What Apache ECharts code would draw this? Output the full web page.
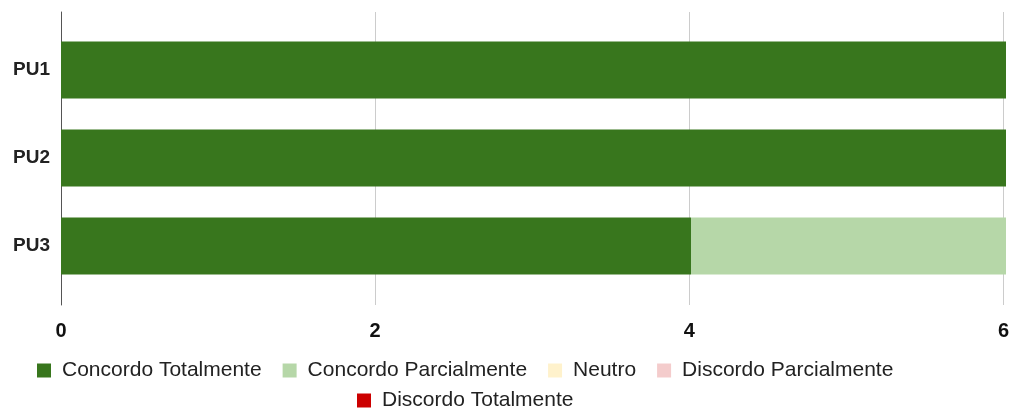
<!DOCTYPE html>
<html><head><meta charset="utf-8">
<script src="https://cdn.jsdelivr.net/npm/echarts@6/dist/echarts.min.js"></script>
<style>html,body{margin:0;padding:0;background:#fff}#c{width:1012px;height:409px}</style>
</head><body><div id="c"></div>
<script>
const categories = ['PU1', 'PU2', 'PU3'];
const seriesNames = ['Concordo Totalmente', 'Concordo Parcialmente', 'Neutro', 'Discordo Parcialmente', 'Discordo Totalmente'];
const concordoTotalmente = [6, 6, 4];
const concordoParcialmente = [0, 0, 2];
const neutro = [0, 0, 0];
const discordoParcialmente = [0, 0, 0];
const discordoTotalmente = [0, 0, 0];
const xTicks = [0, 2, 4, 6];
const colors = ['#38761d', '#b6d7a8', '#fff2cc', '#f4cccc', '#cc0000'];

const values = [concordoTotalmente, concordoParcialmente, neutro, discordoParcialmente, discordoTotalmente];
const font = '"Liberation Sans", Arial, sans-serif';

const chart = echarts.init(document.getElementById('c'));
chart.setOption({
  animation: false,
  color: colors,
  grid: [
    {left: 61, right: 6, top: 12, bottom: 104},
    {left: 61, right: 6, top: 26, bottom: 119}
  ],
  xAxis: [
    {gridIndex: 0, type: 'value', min: xTicks[0], max: xTicks[xTicks.length-1], interval: 2,
     axisLine: {show: false}, axisTick: {show: false},
     splitLine: {show: true, lineStyle: {color: '#cccccc', width: 1}},
     axisLabel: {fontFamily: font, fontSize: 20, fontWeight: 'bold', color: '#111', margin: 16}},
    {gridIndex: 1, type: 'value', min: xTicks[0], max: xTicks[xTicks.length-1], show: false}
  ],
  yAxis: [
    {gridIndex: 0, type: 'category', data: [''], axisLine: {show: true, lineStyle: {color: '#555', width: 1}},
     axisTick: {show: false}, axisLabel: {show: false}, splitLine: {show: false}},
    {gridIndex: 1, type: 'category', data: categories, inverse: true,
     axisLine: {show: false}, axisTick: {show: false},
     axisLabel: {fontFamily: font, fontSize: 19, fontWeight: 'bold', color: '#222', margin: 11}}
  ],
  legend: [
    {data: seriesNames.slice(0, 4), left: 32, top: 355, itemWidth: 14, itemHeight: 14, itemGap: 21,
     icon: 'rect', textStyle: {fontFamily: font, fontSize: 21, color: '#222', padding: [0, 0, 0, 6]}},
    {data: seriesNames.slice(4), left: 352, top: 385, itemWidth: 14, itemHeight: 14,
     icon: 'rect', textStyle: {fontFamily: font, fontSize: 21, color: '#222', padding: [0, 0, 0, 6]}}
  ],
  series: seriesNames.map((name, i) => ({
    name: name, type: 'bar', stack: 'total', xAxisIndex: 1, yAxisIndex: 1,
    barCategoryGap: '35%', data: values[i], itemStyle: {color: colors[i]}
  }))
});
</script></body></html>
